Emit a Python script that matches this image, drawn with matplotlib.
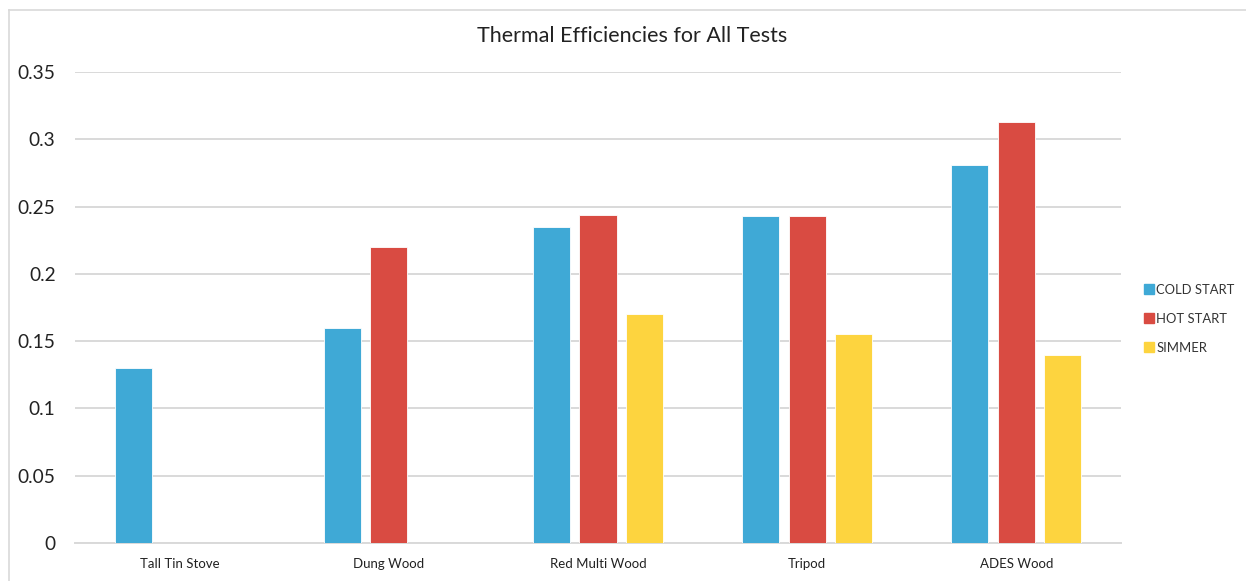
import matplotlib
matplotlib.use("Agg")
import matplotlib.pyplot as plt
from matplotlib.lines import Line2D
import numpy as np

plt.rcParams['font.family'] = ['Lato', 'DejaVu Sans']

stoves = ["Tall Tin Stove", "Dung Wood", "Red Multi Wood", "Tripod", "ADES Wood"]
cold_start = [0.130, 0.160, 0.235, 0.243, 0.281]
hot_start = [np.nan, 0.220, 0.244, 0.243, 0.313]
simmer = [np.nan, np.nan, 0.170, 0.155, 0.140]
series_names = ["COLD START", "HOT START", "SIMMER"]
colors = ["#3FA9D6", "#D94B42", "#FDD43F"]
yticks = [0, 0.05, 0.1, 0.15, 0.2, 0.25, 0.3, 0.35]
ytick_labels = ["0", "0.05", "0.1", "0.15", "0.2", "0.25", "0.3", "0.35"]

fig = plt.figure(figsize=(12.46, 5.81), dpi=100)
ax = fig.add_axes([75 / 1246, 38 / 581, 1046 / 1246, 471 / 581])

x = np.arange(len(stoves))
width = 0.177
step = 0.222
for i, (vals, c) in enumerate(zip([cold_start, hot_start, simmer], colors)):
    ax.bar(x + (i - 1) * step, vals, width, color=c, edgecolor="white",
           linewidth=0.6, zorder=3)

ax.set_xlim(-0.5, len(stoves) - 0.5)
ax.set_ylim(0, 0.35)
ax.set_yticks(yticks)
ax.set_yticklabels(ytick_labels)
ax.set_xticks(x)
ax.set_xticklabels(stoves)
ax.tick_params(axis="y", length=0, pad=14, labelsize=13.8, labelcolor="#222222")
ax.tick_params(axis="x", length=0, pad=11, labelsize=9.5, labelcolor="#222222")
ax.grid(axis="y", color="#D9D9D9", linewidth=1.4, zorder=0)
for side in ["top", "right", "left"]:
    ax.spines[side].set_visible(False)
ax.spines["bottom"].set_color("#D9D9D9")
ax.spines["bottom"].set_linewidth(1.4)

fig.text(632 / 1246, 1 - 36 / 581, "Thermal Efficiencies for All Tests",
         ha="center", va="center", fontsize=15.5, color="#222222")

handles = [Line2D([], [], marker="s", linestyle="none", markersize=6.5,
                  markerfacecolor=c, markeredgecolor=c) for c in colors]
fig.legend(handles, series_names, loc="center left",
           bbox_to_anchor=(1131 / 1246, 1 - 319 / 581), frameon=False,
           fontsize=9.4, handletextpad=0.05, labelspacing=1.3,
           handlelength=1.0, labelcolor="#333333")

# light frame around the chart area
fig.add_artist(Line2D([9 / 1246, 9 / 1246], [0, 1 - 10 / 581],
                      transform=fig.transFigure, color="#D9D9D9", linewidth=1.2))
fig.add_artist(Line2D([9 / 1246, 1], [1 - 10 / 581, 1 - 10 / 581],
                      transform=fig.transFigure, color="#D9D9D9", linewidth=1.2))

fig.savefig("out.png", dpi=100, facecolor="white")
